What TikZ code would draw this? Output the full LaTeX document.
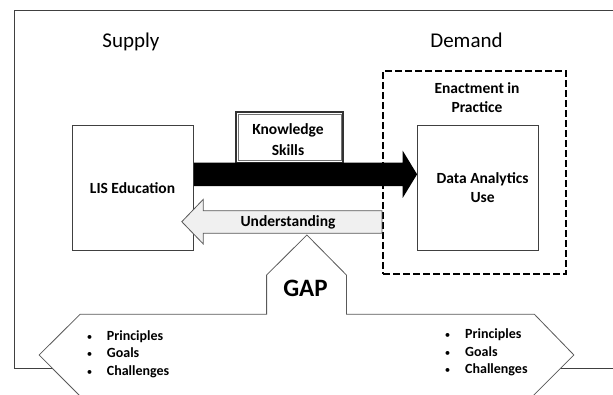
\documentclass[tikz,border=0pt]{standalone}
\usepackage{fontspec}
\setmainfont{Carlito}
\begin{document}
\begin{tikzpicture}[x=1pt,y=-1pt,
  frameline/.style={draw=black!75, line width=0.8pt},
  boxnode/.style={draw=black!75, line width=0.8pt, fill=white, inner sep=0pt},
  lbl/.style={font=\bfseries\fontsize{15.5}{19}\selectfont, inner sep=0pt, anchor=base},
  big/.style={font=\fontsize{21}{25}\selectfont, inner sep=0pt, anchor=base},
  bul/.style={font=\bfseries\fontsize{14}{17}\selectfont, inner sep=0pt, anchor=base west},
  dot/.style={font=\fontsize{11}{14}\selectfont, inner sep=0pt, anchor=base},
  dashbox/.style={draw=black, line width=2.2pt, dash pattern=on 6.5pt off 3.5pt, inner sep=0pt},
]
\useasboundingbox (0,0) rectangle (613,394);
\fill[white] (0,0) rectangle (613,394);
% outer frame (open on right)
\draw[frameline] (613,10) -- (14,10) -- (14,368) -- (613,368);

% titles
\node[big] (supply) at (131,47.5) {Supply};
\node[big] (demand) at (466.5,47.5) {Demand};

% dashed enactment box
\node[dashbox, minimum width=182.7pt, minimum height=203.3pt] (enact) at (474.35,172.35) {};
\node[lbl] (enact1) at (477,93.3) {Enactment in};
\node[lbl] (enact2) at (477,112.3) {Practice};

% boxes
\node[boxnode, minimum width=121.2pt, minimum height=124.3pt] (lis) at (132.9,187.9) {};
\node[lbl] (listxt) at (132.5,193) {LIS Education};
\node[boxnode, minimum width=121.2pt, minimum height=124.3pt] (da) at (478.1,187.9) {};
\node[lbl] (da1) at (482.6,183.3) {Data Analytics};
\node[lbl] (da2) at (482.6,202.3) {Use};

% knowledge box (double frame)
\node[draw=black!80, line width=2pt, fill=white, minimum width=107.5pt, minimum height=51pt, inner sep=0pt] (know) at (289.45,137.2) {};
\draw[black!55, line width=0.7pt] ([xshift=3.2pt,yshift=-3.2pt]know.north west) rectangle ([xshift=-3.2pt,yshift=3.2pt]know.south east);
\node[lbl] (k1) at (288,134.3) {Knowledge};
\node[lbl] (k2) at (288,155) {Skills};

% black arrow from LIS to DA
\fill[black] (lis.east |- 0,162.7) -- (402.7,162.7) -- (402.7,150.7) -- (da.west |- 0,174.3)
  -- (402.7,197.9) -- (402.7,186) -- (lis.east |- 0,186) -- cycle;

% understanding arrow back
\filldraw[fill=black!6, draw=black!65, line width=0.8pt] (enact.west |- 0,210.7) -- (203.3,210.7) -- (203.3,199.3) -- (181.8,221.7)
  -- (203.3,244) -- (203.3,233.3) -- (enact.west |- 0,233.3) -- cycle;
\node[lbl] (und) at (288,226.7) {Understanding};

% GAP shape
\begin{scope}
\clip (0,0) rectangle (613,394);
\filldraw[fill=white, draw=black!65, line width=0.8pt] (306.9,235) -- (346.4,275) -- (346.4,314.3) -- (534.4,314.3)
  -- (573.9,355) -- (527.9,401) -- (85,401) -- (39.1,355) -- (80.1,314.3) -- (266.6,314.3) -- (266.6,275) -- cycle;
\end{scope}
\node[font=\bfseries\fontsize{25}{30}\selectfont, inner sep=0pt, anchor=base] (gap) at (305.5,296.7) {GAP};

% bullet lists
\node[dot] (lb1) at (89.5,340) {\textbullet};
\node[dot] (lb2) at (89.5,357.3) {\textbullet};
\node[dot] (lb3) at (89.5,375) {\textbullet};
\node[bul] (lt1) at (106.7,340) {Principles};
\node[bul] (lt2) at (106.7,357.3) {Goals};
\node[bul] (lt3) at (106.7,375) {Challenges};
\node[dot] (rb1) at (447.6,338.7) {\textbullet};
\node[dot] (rb2) at (447.6,356) {\textbullet};
\node[dot] (rb3) at (447.6,373.3) {\textbullet};
\node[bul] (rt1) at (465,338.7) {Principles};
\node[bul] (rt2) at (465,356) {Goals};
\node[bul] (rt3) at (465,373.3) {Challenges};
\end{tikzpicture}
\end{document}
